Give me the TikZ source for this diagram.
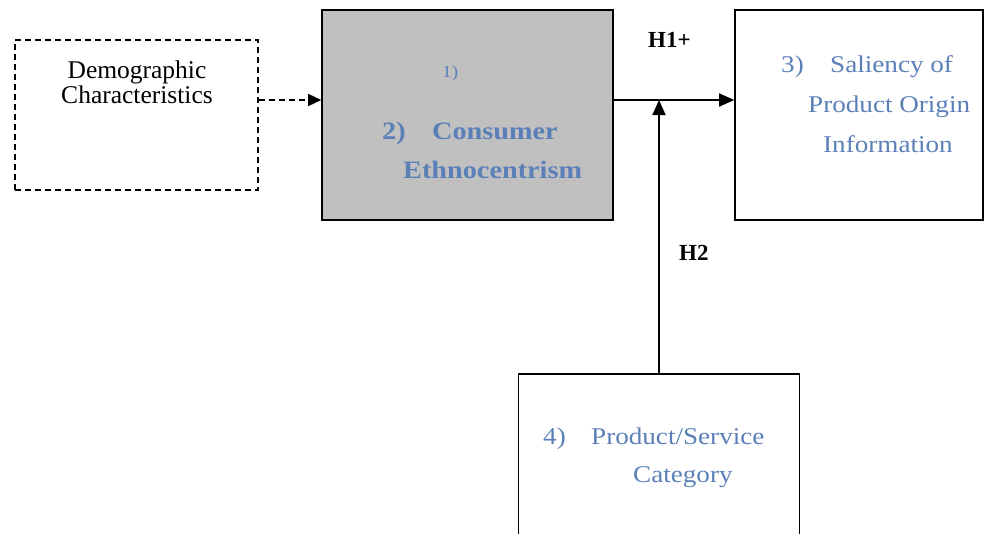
\documentclass[tikz,border=0pt]{standalone}
\usepackage{fontspec}
\setmainfont{Liberation Serif}
\newfontfamily\blufont[FakeStretch=1.13]{Liberation Serif}
\usetikzlibrary{arrows.meta}
\definecolor{txtblue}{HTML}{5B80B8}
\definecolor{boxgrey}{HTML}{C0C0C0}
\tikzset{
  box/.style={draw=black, line width=1.6pt, rectangle, inner sep=0pt},
  dbox/.style={draw=black, line width=1.4pt, dash pattern=on 6pt off 4pt, rectangle, inner sep=0pt},
  conn/.style={line width=1.6pt, -{Triangle[length=15pt,width=13pt]}},
  dconn/.style={line width=1.4pt, dash pattern=on 6pt off 4pt, -{Triangle[length=13pt,width=12pt]}},
  blk/.style={font=\fontsize{25.5}{25.5}\selectfont, text=black, inner sep=0pt, anchor=base},
  blu/.style={font=\blufont\fontsize{24}{26}\selectfont, text=txtblue, inner sep=0pt, anchor=base west},
  bblu/.style={font=\blufont\fontsize{25}{26}\selectfont\bfseries, text=txtblue, inner sep=0pt, anchor=base west},
  hlab/.style={font=\fontsize{23}{25}\selectfont\bfseries, text=black, inner sep=0pt, anchor=base west}
}
\begin{document}
\begin{tikzpicture}[x=1pt,y=-1pt]
\useasboundingbox (0,0) rectangle (984,533);
\clip (0,0) rectangle (984,533);
% boxes
\node[dbox, minimum width=243pt, minimum height=150pt] (demo) at (136.5,115) {};
\node[box, fill=boxgrey, minimum width=291pt, minimum height=210pt] (ce) at (467.5,115) {};
\node[box, minimum width=248pt, minimum height=210pt] (sal) at (859,115) {};
\node[box, minimum width=281pt, minimum height=176pt] (cat) at (659,462) {};
% texts
\node[blk] (t1a) at (137,78) {Demographic};
\node[blk] (t1b) at (137,103.5) {Characteristics};
\node[blu, font=\blufont\fontsize{17}{18}\selectfont] (t2) at (442,77) {1)};
\node[bblu] (t3a) at (382,139) {2)};
\node[bblu] (t3b) at (432,139) {Consumer};
\node[bblu] (t4) at (403,178) {Ethnocentrism};
\node[blu] (t5a) at (781,72) {3)};
\node[blu] (t5b) at (830,72) {Saliency of};
\node[blu] (t6) at (808,112) {Product Origin};
\node[blu] (t7) at (823,152) {Information};
\node[blu] (t8a) at (543,444) {4)};
\node[blu] (t8b) at (591,444) {Product/Service};
\node[blu] (t9) at (633,482) {Category};
\node[hlab] (h1) at (648,47) {H1+};
\node[hlab] (h2) at (679,260) {H2};
% connectors
\coordinate (ly) at (0,100);
\coordinate (j) at (659,100);
\draw[dconn] (demo.east |- ly) -- (ce.west |- ly);
\draw[conn] (ce.east |- ly) -- (sal.west |- ly);
\draw[conn] (cat.north) -- (j);
\end{tikzpicture}
\end{document}
